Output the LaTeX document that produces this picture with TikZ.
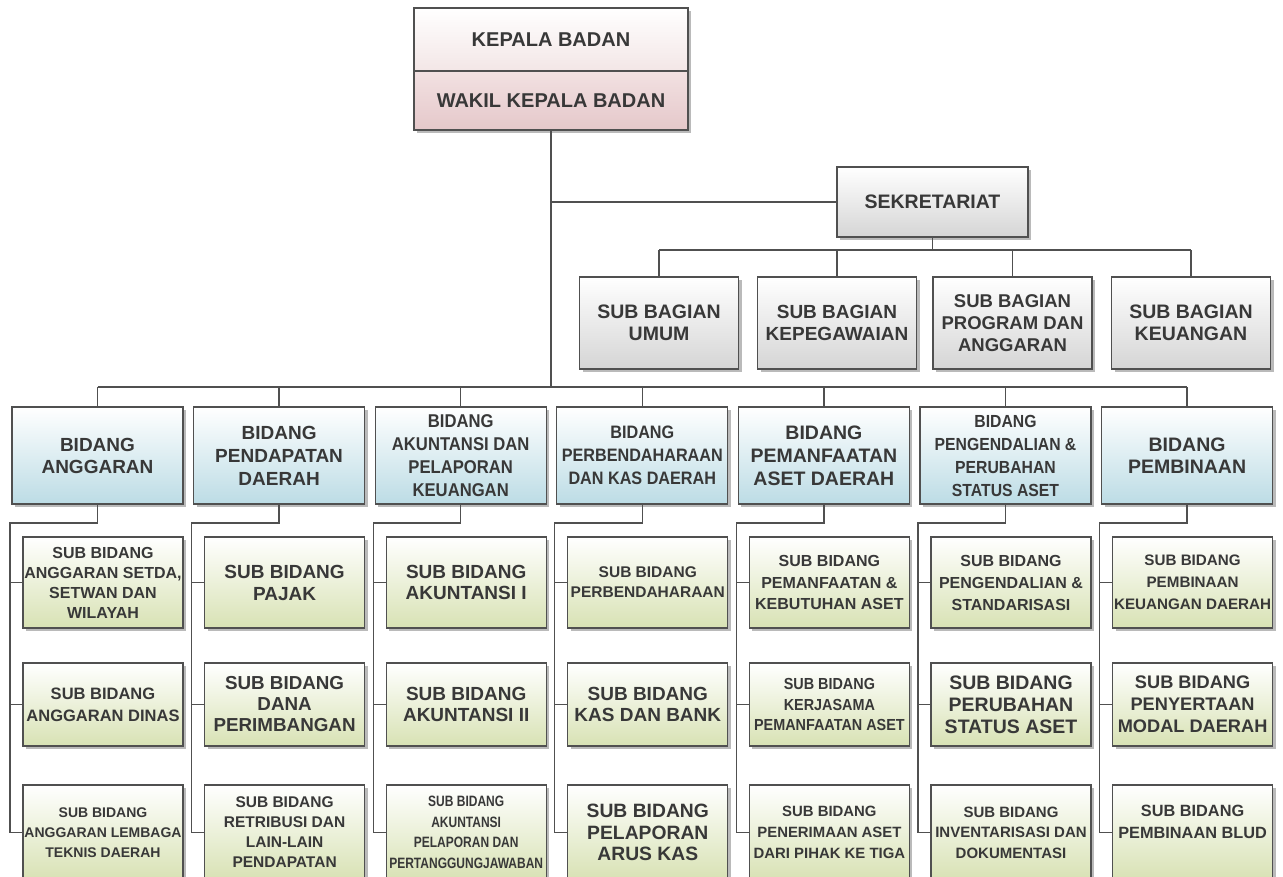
\documentclass[tikz,border=0pt]{standalone}
\usepackage{fontspec}
\setmainfont{Liberation Sans}
\newfontfamily\cna{Liberation Sans}[FakeStretch=0.9]
\newfontfamily\cnb{Liberation Sans}[FakeStretch=0.8]
\usetikzlibrary{shadows}
\definecolor{linegray}{HTML}{505050}
\definecolor{textgray}{HTML}{383838}
\definecolor{bidblue}{HTML}{BCDCE5}
\definecolor{subgreen}{HTML}{D8E2B4}
\definecolor{baggray}{HTML}{D5D5D5}
\definecolor{kepink}{HTML}{F3E6E6}
\definecolor{wakpinktop}{HTML}{F2E1E2}
\definecolor{wakpink}{HTML}{E5C8CA}
\newcommand{\fnt}[2]{\fontsize{#1}{#2}\selectfont\bfseries}
\begin{document}
\begin{tikzpicture}[x=1pt,y=-1pt,
	box/.style={draw=linegray,line width=1.3pt,text=textgray,align=center,inner sep=0pt,
		drop shadow={shadow xshift=3pt,shadow yshift=-3pt,opacity=0.45,fill=black!60}},
	kbox/.style={box,minimum width=274pt},
	bag/.style={box,minimum width=159pt,minimum height=92pt,top color=white,bottom color=baggray},
	bid/.style={box,minimum width=171pt,minimum height=97pt,top color=white,bottom color=bidblue},
	sub/.style={box,minimum width=160pt,top color=white,bottom color=subgreen},
	conn/.style={draw=linegray,line width=1.3pt}]
	\useasboundingbox (0,0) rectangle (1283,876);
	\clip (0,0) rectangle (1283,876);
	\node[kbox,minimum height=63pt,top color=white,bottom color=kepink,font=\fnt{20}{24}] (kepala) at (551,39.5) {KEPALA BADAN};
	\node[kbox,minimum height=59pt,top color=wakpinktop,bottom color=wakpink,font=\fnt{20}{24}] (wakil) at (551,100.5) {WAKIL KEPALA BADAN};
	\node[bag,minimum width=191pt,minimum height=70pt,font=\fnt{19.5}{22}] (sekre) at (932.5,202) {SEKRETARIAT};
	\foreach \i/\x/\ft/\txt in {1/659/{\fnt{19.5}{22}}/{SUB BAGIAN\\UMUM},
		2/837/{\fnt{19}{22}}/{SUB BAGIAN\\KEPEGAWAIAN},
		3/1012.5/{\fnt{18.5}{22}}/{SUB BAGIAN\\PROGRAM DAN\\ANGGARAN},
		4/1191/{\fnt{19.5}{22}}/{SUB BAGIAN\\KEUANGAN}}
	\node[bag,font=\ft] (bag\i) at (\x,323) {\txt};
	\foreach \i/\ft/\txt in {1/{\fnt{19}{22}}/{BIDANG\\ANGGARAN},
		2/{\fnt{19}{23}}/{BIDANG\\PENDAPATAN\\DAERAH},
		3/{\cna\fnt{18.5}{23}}/{BIDANG\\AKUNTANSI DAN\\PELAPORAN\\KEUANGAN},
		4/{\cna\fnt{18}{23}}/{BIDANG\\PERBENDAHARAAN\\DAN KAS DAERAH},
		5/{\fnt{19.5}{23}}/{BIDANG\\PEMANFAATAN\\ASET DAERAH},
		6/{\cna\fnt{17.5}{23}}/{BIDANG\\PENGENDALIAN \&\\PERUBAHAN\\STATUS ASET},
		7/{\fnt{19.5}{22}}/{BIDANG\\PEMBINAAN}}
	\node[bid,font=\ft] (bid\i) at (181.6*\i-84.1,455.5) {\txt};
	\foreach \i/\ft/\txt in {1/{\fnt{16}{20}}/{SUB BIDANG\\ANGGARAN SETDA,\\SETWAN DAN\\WILAYAH},
		2/{\fnt{19}{22}}/{SUB BIDANG\\PAJAK},
		3/{\fnt{19}{21}}/{SUB BIDANG\\AKUNTANSI I},
		4/{\fnt{15.5}{20}}/{SUB BIDANG\\PERBENDAHARAAN},
		5/{\fnt{16}{21.5}}/{SUB BIDANG\\PEMANFAATAN \&\\KEBUTUHAN ASET},
		6/{\fnt{16}{22}}/{SUB BIDANG\\PENGENDALIAN \&\\STANDARISASI},
		7/{\fnt{15.2}{22}}/{SUB BIDANG\\PEMBINAAN\\KEUANGAN DAERAH}}
	\node[sub,minimum height=91pt,font=\ft] (s\i1) at (181.6*\i-78.6,582.5) {\txt};
	\foreach \i/\ft/\txt in {1/{\fnt{16.5}{22}}/{SUB BIDANG\\ANGGARAN DINAS},
		2/{\fnt{18.8}{21}}/{SUB BIDANG\\DANA\\PERIMBANGAN},
		3/{\fnt{19}{21}}/{SUB BIDANG\\AKUNTANSI II},
		4/{\fnt{19}{21}}/{SUB BIDANG\\KAS DAN BANK},
		5/{\cna\fnt{16}{20.5}}/{SUB BIDANG\\KERJASAMA\\PEMANFAATAN ASET},
		6/{\fnt{19.5}{22}}/{SUB BIDANG\\PERUBAHAN\\STATUS ASET},
		7/{\fnt{18.2}{22}}/{SUB BIDANG\\PENYERTAAN\\MODAL DAERAH}}
	\node[sub,minimum height=83pt,font=\ft] (s\i2) at (181.6*\i-78.6,704.5) {\txt};
	\foreach \i/\ft/\txt in {1/{\fnt{14}{20}}/{SUB BIDANG\\ANGGARAN LEMBAGA\\TEKNIS DAERAH},
		2/{\fnt{15.5}{20}}/{SUB BIDANG\\RETRIBUSI DAN\\LAIN-LAIN\\PENDAPATAN},
		3/{\cnb\fnt{15}{20.5}}/{SUB BIDANG\\AKUNTANSI\\PELAPORAN DAN\\PERTANGGUNGJAWABAN},
		4/{\fnt{19.3}{21.5}}/{SUB BIDANG\\PELAPORAN\\ARUS KAS},
		5/{\fnt{14.9}{21}}/{SUB BIDANG\\PENERIMAAN ASET\\DARI PIHAK KE TIGA},
		6/{\fnt{15}{20.5}}/{SUB BIDANG\\INVENTARISASI DAN\\DOKUMENTASI},
		7/{\fnt{16.3}{22}}/{SUB BIDANG\\PEMBINAAN BLUD\\\mbox{}}}
	\node[sub,minimum height=95pt,font=\ft] (s\i3) at (181.6*\i-78.6,832.5) {\txt};
	\coordinate (bus) at (552,387);
	\coordinate (bagbus) at (935,250);
	\draw[conn] (wakil.south) -- (wakil.south |- bus);
	\draw[conn] (wakil.south |- sekre.west) -- (sekre.west);
	\draw[conn] (sekre.south) -- (sekre.south |- bagbus);
	\draw[conn] (bag1.north |- bagbus) -- (bag4.north |- bagbus);
	\foreach \i in {1,...,4}
	\draw[conn] (bag\i.north) -- (bag\i.north |- bagbus);
	\draw[conn] (bid1.north |- bus) -- (bid7.north |- bus);
	\foreach \i in {1,...,7} {
		\draw[conn] (bid\i.north) -- (bid\i.north |- bus);
		\coordinate (sp\i) at (181.6*\i-171.6,523);
		\draw[conn] (bid\i.south) |- (sp\i) -- (sp\i |- s\i3.west);
		\foreach \j in {1,2,3}
		\draw[conn] (sp\i |- s\i\j.west) -- (s\i\j.west);
	}
\end{tikzpicture}
\end{document}
